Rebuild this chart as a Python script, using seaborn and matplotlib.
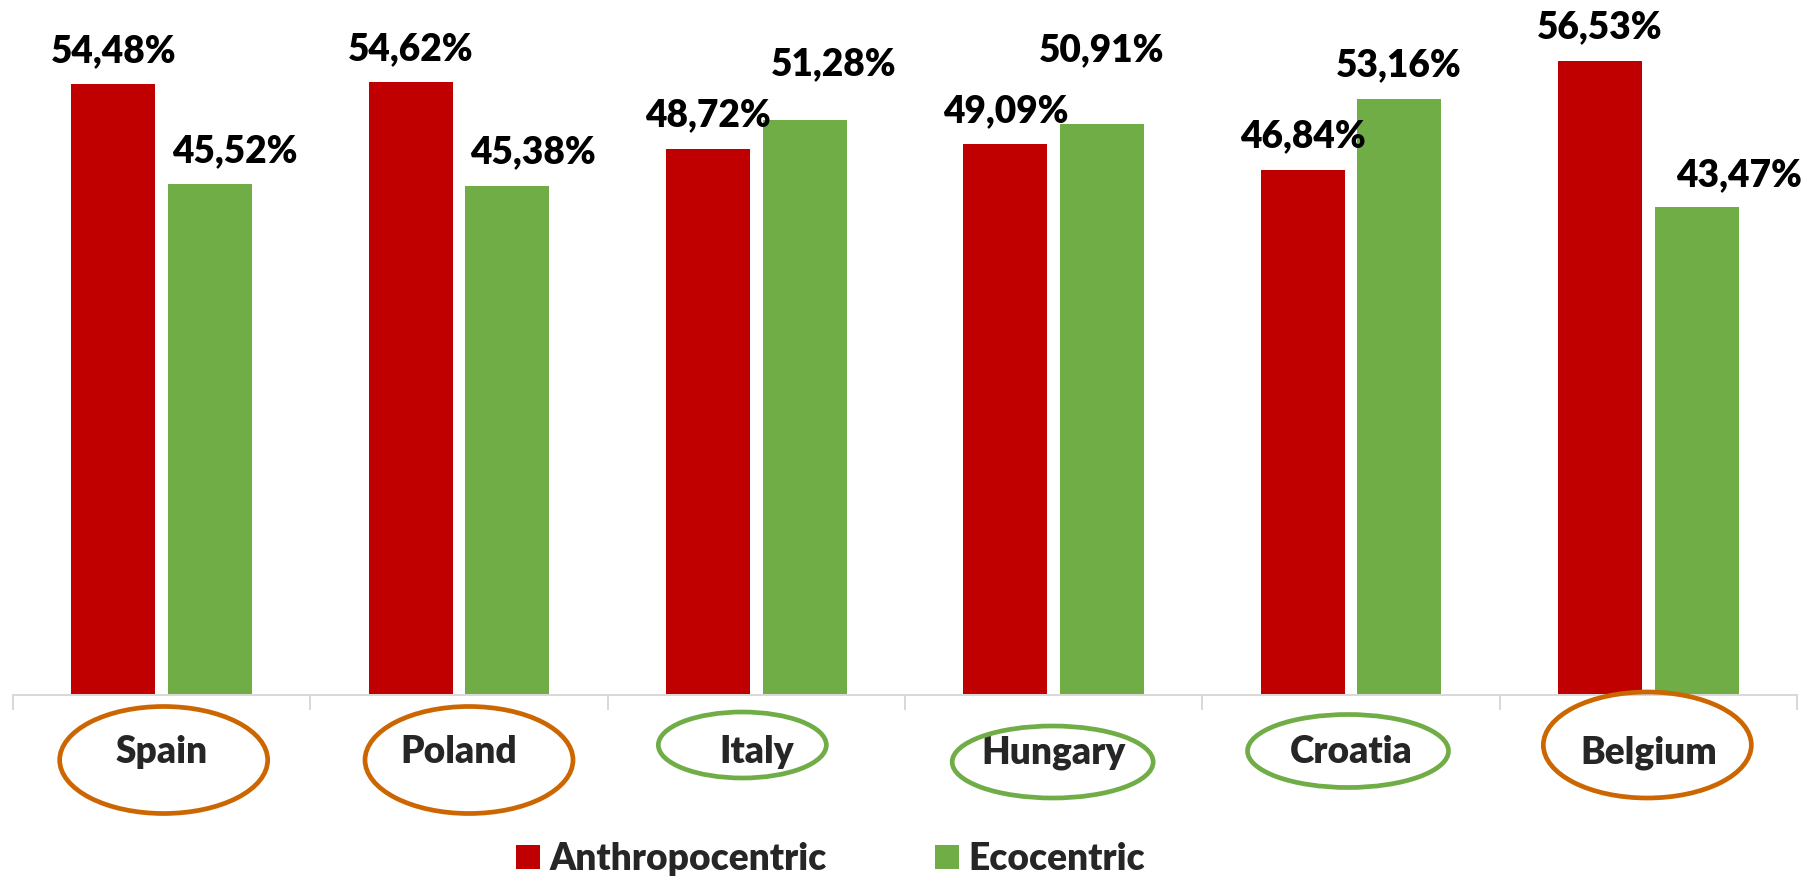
import numpy as np
import pandas as pd
import matplotlib
matplotlib.use("Agg")
import matplotlib.pyplot as plt
from matplotlib.patches import Ellipse, Patch
import seaborn as sns

# ---- data -------------------------------------------------------------
countries = ["Spain", "Poland", "Italy", "Hungary", "Croatia", "Belgium"]
anthropocentric = [54.48, 54.62, 48.72, 49.09, 46.84, 56.53]
ecocentric = [45.52, 45.38, 51.28, 50.91, 53.16, 43.47]
series_names = ["Anthropocentric", "Ecocentric"]
# orientation that dominates in each country (decides the ring colour)
dominant = ["Anthropocentric", "Anthropocentric", "Ecocentric",
            "Ecocentric", "Ecocentric", "Anthropocentric"]

# ---- style / layout ---------------------------------------------------
RED, GREEN, ORANGE = "#C00000", "#70AD47", "#CC6600"
AXIS_GREY = "#D9D9D9"
FONT = ["Lato", "DejaVu Sans"]
WEIGHT = "heavy"
W, H, DPI = 1802, 882, 100
PT = 72 / DPI            # points per pixel
FS = 37 * PT             # text size (37 px em)

# value-label offsets (dx, dy) in pixels from the bar top to the text baseline
red_label_offsets = [(0, 22), (0, 22), (0, 22), (0, 22), (0, 23), (0, 23)]
green_label_offsets = [(25, 22), (26, 23), (29, 45), (0, 63), (0, 23), (42, 21)]

# rings around the country names: dx from category centre, centre y from the
# top of the figure, width, height (pixels)
rings = [(2, 760, 208, 107), (10, 760, 208, 107), (-14, 745, 168, 66),
         (-1, 762, 201, 72), (-3, 751, 201, 73), (-1, 745, 208, 106)]

sns.set_theme(style="white")
plt.rcParams["font.family"] = FONT

df = pd.DataFrame({
    "country": countries * 2,
    "share": anthropocentric + ecocentric,
    "orientation": [series_names[0]] * len(countries) + [series_names[1]] * len(countries),
})

fig = plt.figure(figsize=(W / DPI, H / DPI), dpi=DPI)
ax = fig.add_axes([13 / W, (H - 695) / H, (1797 - 13) / W, 695 / H])

sns.barplot(data=df, x="country", y="share", hue="orientation",
            hue_order=series_names, palette=[RED, GREEN], saturation=1,
            width=0.649, gap=0.13, linewidth=0, legend=False, ax=ax)

ax.set_xlim(-0.5, len(countries) - 0.5)
ax.set_ylim(0, 695 / 11.215)
ax.set_xlabel("")
ax.set_ylabel("")
ax.set_yticks([])
for side in ("left", "right", "top"):
    ax.spines[side].set_visible(False)
ax.spines["bottom"].set_color(AXIS_GREY)
ax.spines["bottom"].set_linewidth(2 * PT)

# category separators below the axis
ax.set_xticks(np.arange(-0.5, len(countries), 1.0), minor=True)
ax.tick_params(axis="x", which="minor", length=15 * PT, width=2 * PT,
               color=AXIS_GREY, direction="out", bottom=True)
ax.tick_params(axis="x", which="major", length=0, pad=68 * PT)
ax.set_xticks(range(len(countries)))
ax.set_xticklabels(countries, fontsize=FS, fontweight=WEIGHT, family=FONT)
for t in ax.get_xticklabels():
    t.set_va("baseline")

# value labels, drawn from the bars' own heights
n = len(countries)
bars = ax.patches[: 2 * n]
offsets = red_label_offsets + green_label_offsets
for bar, (dx, dy) in zip(bars, offsets):
    v = bar.get_height()
    ax.annotate(f"{v:.2f}".replace(".", ",") + "%",
                xy=(bar.get_x() + bar.get_width() / 2, v),
                xytext=(dx, dy), textcoords="offset pixels",
                ha="center", va="baseline", fontsize=FS,
                fontweight=WEIGHT, color="black", family=FONT,
                annotation_clip=False)

# rings around the country names
fig.canvas.draw()
for i, (dx, cy, ew, eh) in enumerate(rings):
    xc = ax.transData.transform((i, 0))[0]
    col = ORANGE if dominant[i] == series_names[0] else GREEN
    e = Ellipse(((xc + dx) / W, 1 - cy / H), ew / W, eh / H,
                transform=fig.transFigure, fill=False, edgecolor=col,
                linewidth=4.7 * PT, clip_on=False)
    fig.add_artist(e)

handles = [Patch(facecolor=RED, edgecolor="none"),
           Patch(facecolor=GREEN, edgecolor="none")]
fig.legend(handles, series_names, loc="center left",
           bbox_to_anchor=(516 / W, 1 - 859 / H), ncol=2, frameon=False,
           prop={"family": FONT, "weight": WEIGHT, "size": FS},
           handlelength=0.65, handleheight=0.65, handletextpad=0.25,
           columnspacing=2.94, borderpad=0, borderaxespad=0)

fig.savefig("out.png", dpi=DPI, facecolor="white")
